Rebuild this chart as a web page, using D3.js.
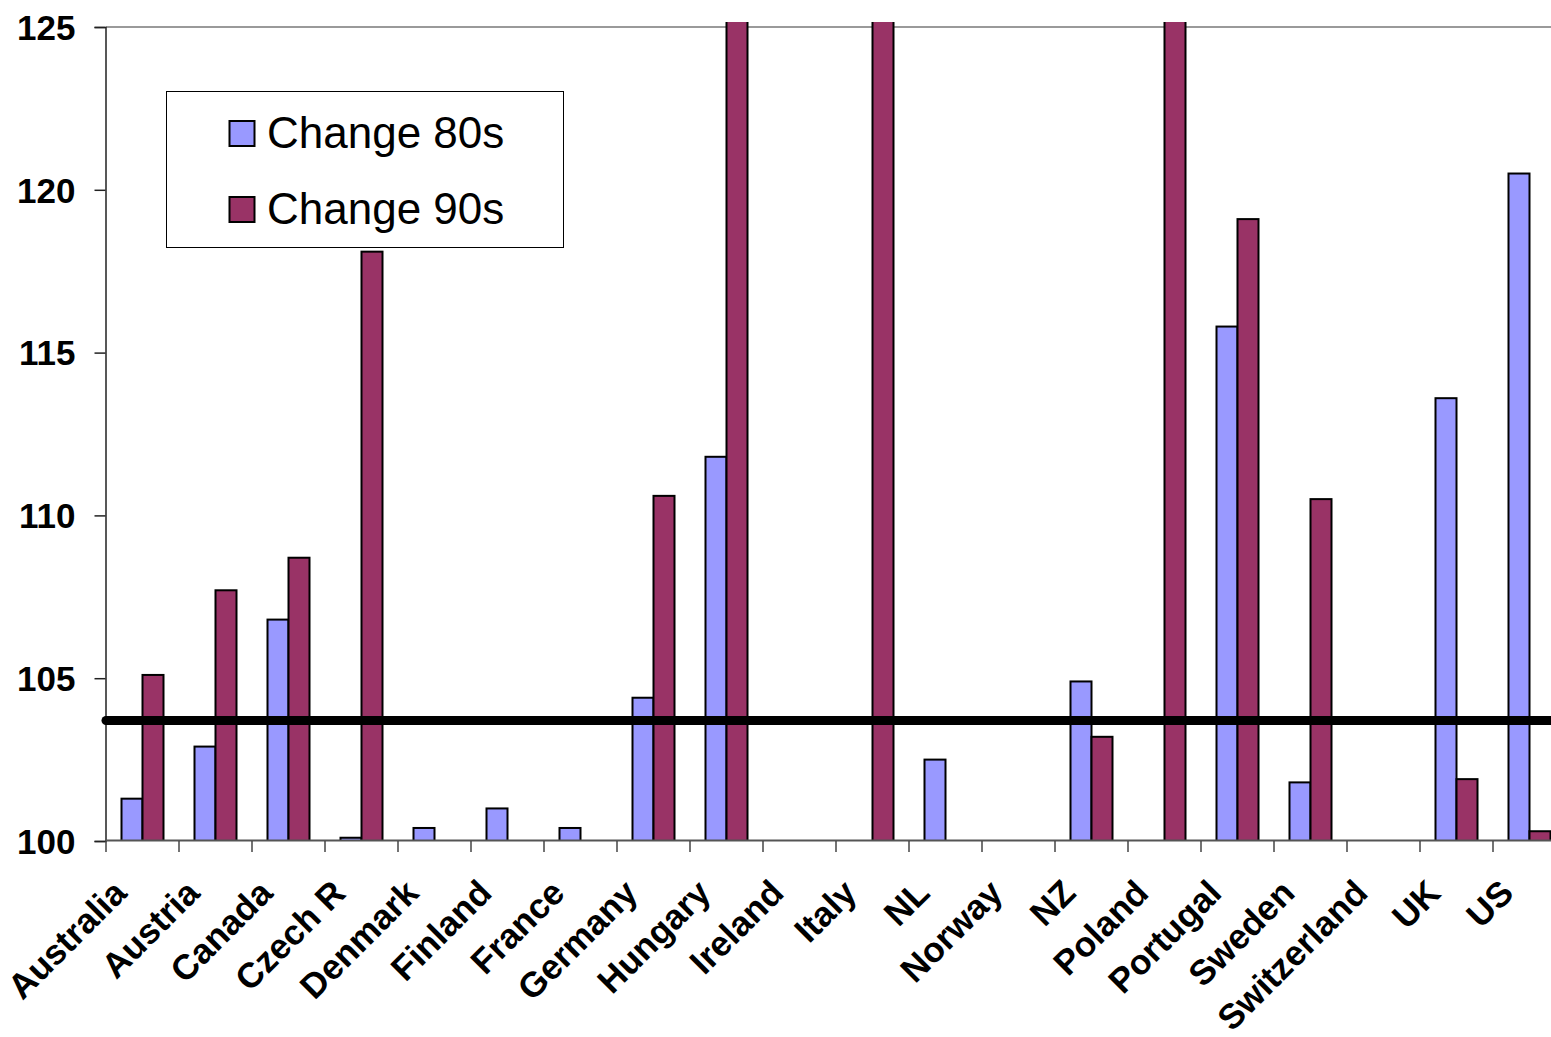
<!DOCTYPE html>
<html>
<head>
<meta charset="utf-8">
<script src="https://cdn.jsdelivr.net/npm/d3@7"></script>
<style>
  html, body { margin: 0; padding: 0; background: #fff; }
  svg { display: block; }
</style>
</head>
<body>
<svg id="chart" width="1551" height="1037"></svg>
<script>
const categories = ["Australia","Austria","Canada","Czech R","Denmark","Finland","France","Germany","Hungary","Ireland","Italy","NL","Norway","NZ","Poland","Portugal","Sweden","Switzerland","UK","US"];
const change80s = [101.3, 102.9, 106.8, 100.1, 100.4, 101.0, 100.4, 104.4, 111.8, null, null, 102.5, null, 104.9, null, 115.8, 101.8, null, 113.6, 120.5];
const change90s = [105.1, 107.7, 108.7, 118.1, null, null, null, 110.6, 126, null, 126, null, null, 103.2, 126, 119.1, 110.5, null, 101.9, 100.3];
const seriesNames = ["Change 80s", "Change 90s"];
const seriesColors = ["#9999FF", "#993366"];
const yTicks = [100, 105, 110, 115, 120, 125];
const referenceLevel = 103.7;

const FONT = "'Liberation Sans', Arial, Helvetica, sans-serif";
const svg = d3.select("#chart");
svg.append("rect").attr("width", 1551).attr("height", 1037).attr("fill", "#fff");

const mLeft = 106, mRight = 1566, mTop = 27, mBottom = 841;
const x = d3.scaleBand().domain(categories).range([mLeft, mRight]).padding(0);
const y = d3.scaleLinear().domain([100, 125]).range([mBottom, mTop]);
const barW = 21;
const sub = d3.scaleBand().domain([0, 1]).range([-barW, barW]).padding(0);

svg.append("clipPath").attr("id", "plotclip")
  .append("rect").attr("x", mLeft).attr("y", mTop - 5).attr("width", mRight - mLeft).attr("height", mBottom - mTop + 5);

// top gridline at 125
svg.append("line")
  .attr("x1", mLeft).attr("x2", mRight)
  .attr("y1", y(125)).attr("y2", y(125))
  .attr("stroke", "#9a9a9a").attr("stroke-width", 2);

// bars
const series = [change80s, change90s];
const barsG = svg.append("g").attr("clip-path", "url(#plotclip)");
series.forEach((vals, si) => {
  barsG.selectAll(null)
    .data(categories.map((c, i) => ({ c, v: vals[i] })).filter(d => d.v != null))
    .enter().append("rect")
    .attr("x", d => x(d.c) + x.bandwidth() / 2 + sub(si))
    .attr("y", d => y(d.v))
    .attr("width", sub.bandwidth())
    .attr("height", d => y(100) - y(d.v))
    .attr("fill", seriesColors[si])
    .attr("stroke", "#000")
    .attr("stroke-width", 2);
});

// y axis
const yAxis = d3.axisLeft(y).tickValues(yTicks).tickSize(11).tickPadding(19).tickFormat(d3.format("d"));
const yg = svg.append("g").attr("transform", `translate(${mLeft - 0.5},0)`).call(yAxis);
yg.select(".domain").attr("stroke", "#222").attr("stroke-width", 1.5);
yg.selectAll(".tick line").attr("stroke", "#222").attr("stroke-width", 1.5);
yg.selectAll(".tick text")
  .attr("font-family", FONT).attr("font-weight", "bold").attr("font-size", 35)
  .attr("fill", "#000").attr("dy", "0.35em");

// x axis line
svg.append("line")
  .attr("x1", mLeft).attr("x2", mRight)
  .attr("y1", mBottom - 0.5).attr("y2", mBottom - 0.5)
  .attr("stroke", "#555").attr("stroke-width", 2);

// x tick marks at category boundaries
const boundaries = categories.map(c => x(c)).concat([x(categories[categories.length - 1]) + x.bandwidth()]);
svg.selectAll(null).data(boundaries).enter().append("line")
  .attr("x1", d => d).attr("x2", d => d)
  .attr("y1", mBottom).attr("y2", mBottom + 11)
  .attr("stroke", "#444").attr("stroke-width", 1.5);

// x labels rotated
svg.selectAll(null).data(categories).enter().append("text")
  .attr("transform", d => `translate(${x(d) + x.bandwidth() / 2 - 14},${mBottom + 54}) rotate(-45)`)
  .attr("text-anchor", "end")
  .attr("font-family", FONT).attr("font-weight", "bold").attr("font-size", 35)
  .attr("fill", "#000")
  .text(d => d);

// reference line
svg.append("line")
  .attr("x1", mLeft).attr("x2", mRight)
  .attr("y1", y(referenceLevel)).attr("y2", y(referenceLevel))
  .attr("stroke", "#000").attr("stroke-width", 9).attr("stroke-linecap", "round");

// legend
const lg = svg.append("g");
lg.append("rect").attr("x", 166.5).attr("y", 91.5).attr("width", 397).attr("height", 156)
  .attr("fill", "#fff").attr("stroke", "#000").attr("stroke-width", 1);
seriesNames.forEach((name, i) => {
  const yy = 121 + i * 76;
  lg.append("rect").attr("x", 229.5).attr("y", yy).attr("width", 25).attr("height", 25)
    .attr("fill", seriesColors[i]).attr("stroke", "#000").attr("stroke-width", 2);
  lg.append("text").attr("x", 267).attr("y", yy + 27)
    .attr("font-family", FONT).attr("font-size", 44).attr("fill", "#000")
    .text(name);
});
</script>
</body>
</html>
